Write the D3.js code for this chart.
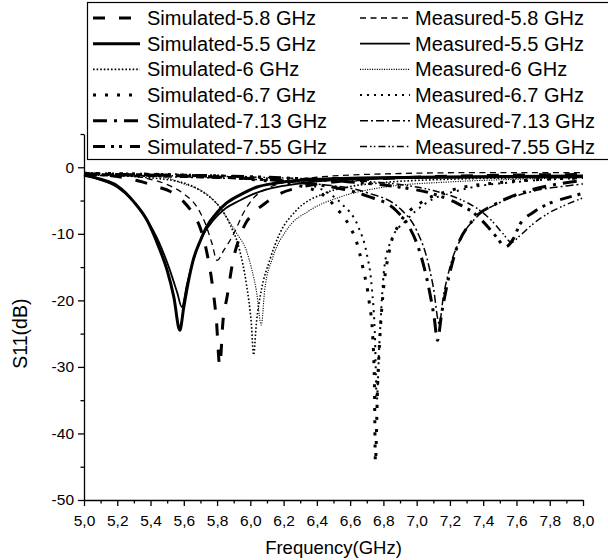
<!DOCTYPE html>
<html>
<head>
<meta charset="utf-8">
<title>S11 simulated vs measured</title>
<script src="https://cdn.jsdelivr.net/npm/d3@7"></script>
<style>
  body{margin:0;background:#fff;}
  text{font-family:Arial,"Liberation Sans",sans-serif;fill:#000;}
</style>
</head>
<body>
<div id="container"></div>
<script>
// ---- data: [frequency GHz, S11 dB]
var sim58 = [[5.0,-1.0],[5.2,-1.4],[5.35,-2.2],[5.45,-3],[5.516,-3.6],[5.6,-5.2],[5.656,-7],[5.7,-9.2],[5.736,-12.5],[5.776,-18.5],[5.796,-23],[5.816,-29.8],[5.836,-23],[5.86,-19.5],[5.896,-14],[5.936,-10.5],[5.97,-8.5],[6.016,-7],[6.1,-5.2],[6.176,-4],[6.3,-3],[6.5,-2.2],[7.0,-1.5],[7.5,-1.2],[8.0,-1.1]];
var meas58 = [[5.0,-0.8],[5.2,-1.1],[5.4,-1.8],[5.5,-2.6],[5.6,-4],[5.68,-6],[5.73,-8.5],[5.77,-11.5],[5.8,-14],[5.84,-12.5],[5.9,-10],[5.96,-6.8],[6.02,-4.6],[6.1,-3.2],[6.2,-2.3],[6.4,-1.5],[6.8,-1.0],[7.4,-0.8],[8.0,-0.8]];
var sim55 = [[5.0,-1.1],[5.1,-1.8],[5.2,-2.8],[5.3,-5.2],[5.38,-8],[5.45,-12],[5.5,-15.5],[5.54,-19.5],[5.576,-24.5],[5.6,-21],[5.625,-17.5],[5.656,-14],[5.7,-11],[5.736,-9],[5.8,-6.8],[5.856,-5.4],[5.95,-4],[6.036,-3],[6.15,-2.4],[6.276,-2],[6.5,-1.7],[7.0,-1.5],[7.5,-1.4],[8.0,-1.3]];
var meas55 = [[5.0,-1.3],[5.1,-1.9],[5.2,-3.0],[5.3,-5.2],[5.376,-7.8],[5.45,-11.2],[5.51,-15],[5.56,-18.8],[5.588,-21],[5.62,-17.5],[5.676,-12.5],[5.72,-10],[5.776,-8],[5.85,-6.2],[5.936,-5],[6.02,-4],[6.116,-3.2],[6.25,-2.6],[6.4,-2.1],[6.7,-1.8],[7.0,-1.6],[7.5,-1.5],[8.0,-1.5]];
var sim6 = [[5.0,-1.0],[5.3,-1.4],[5.576,-2.2],[5.7,-3.5],[5.78,-5],[5.84,-6.8],[5.876,-8.5],[5.936,-12.5],[5.976,-17.5],[6.006,-23.5],[6.02,-28.2],[6.036,-23.5],[6.066,-18.5],[6.116,-14],[6.176,-10],[6.276,-6.5],[6.436,-4],[6.6,-2.9],[6.8,-2.3],[7.2,-1.8],[7.6,-1.6],[8.0,-1.5]];
var meas6 = [[5.0,-1.0],[5.3,-1.2],[5.476,-1.5],[5.6,-2.5],[5.736,-4],[5.8,-5.5],[5.856,-7.5],[5.92,-10],[5.976,-12.5],[6.01,-15.5],[6.036,-18.5],[6.066,-23.7],[6.086,-18.5],[6.136,-13.5],[6.216,-9.5],[6.356,-6.5],[6.536,-4.5],[6.8,-3],[7.2,-2.2],[7.6,-1.8],[8.0,-1.5]];
var sim67 = [[5.0,-0.9],[5.6,-1.2],[6.0,-1.8],[6.3,-2.8],[6.45,-4.4],[6.52,-6.2],[6.6,-9],[6.636,-11],[6.676,-15],[6.716,-20.5],[6.736,-25.5],[6.746,-32.5],[6.752,-44.3],[6.765,-33],[6.78,-25],[6.796,-19.5],[6.836,-12.5],[6.896,-8.5],[7.016,-5.5],[7.2,-3.5],[7.5,-2.3],[8.0,-1.6]];
var meas67 = [[5.0,-0.9],[5.6,-1.1],[6.0,-1.5],[6.3,-2.3],[6.45,-3.6],[6.55,-5.5],[6.65,-9],[6.7,-13],[6.73,-18],[6.75,-26],[6.76,-35],[6.775,-27],[6.806,-15],[6.846,-11],[6.936,-8],[7.05,-5.5],[7.3,-3.2],[7.6,-2.2],[8.0,-1.6]];
var sim713 = [[5.0,-1.0],[5.6,-1.3],[6.0,-1.7],[6.3,-2.3],[6.5,-3],[6.7,-4.3],[6.876,-6.5],[6.956,-9],[7.016,-12.5],[7.076,-18.5],[7.105,-22.5],[7.125,-26],[7.15,-22],[7.176,-18.5],[7.236,-12.5],[7.336,-8],[7.476,-5.5],[7.676,-3.5],[7.876,-2.4],[8.0,-2.0]];
var meas713 = [[5.0,-1.2],[5.6,-1.5],[6.0,-1.8],[6.4,-2.5],[6.7,-3.8],[6.9,-6.2],[7.0,-9.5],[7.06,-13.5],[7.1,-18],[7.136,-23.5],[7.16,-19.5],[7.2,-15],[7.27,-10.5],[7.36,-7.5],[7.5,-5.3],[7.7,-3.6],[7.9,-2.8],[8.0,-2.5]];
var sim755 = [[5.0,-1.1],[5.6,-1.2],[6.2,-1.6],[6.6,-2.2],[6.9,-3],[7.1,-4],[7.25,-5.5],[7.35,-7],[7.43,-9],[7.49,-10.8],[7.53,-12],[7.58,-10.8],[7.62,-8.6],[7.7,-6.8],[7.8,-5.4],[7.9,-4.6],[8.0,-3.9]];
var meas755 = [[5.0,-1.2],[5.6,-1.3],[6.2,-1.6],[6.6,-2.0],[6.9,-2.6],[7.1,-3.5],[7.25,-4.7],[7.37,-6.3],[7.45,-8],[7.52,-10],[7.57,-11.3],[7.62,-10.3],[7.7,-8.5],[7.8,-6.8],[7.9,-5.6],[8.0,-4.6]];

var seriesNames = ["Simulated-5.8 GHz","Simulated-5.5 GHz","Simulated-6 GHz","Simulated-6.7 GHz","Simulated-7.13 GHz","Simulated-7.55 GHz",
                   "Measured-5.8 GHz","Measured-5.5 GHz","Measured-6 GHz","Measured-6.7 GHz","Measured-7.13 GHz","Measured-7.55 GHz"];
var seriesData = [sim58, sim55, sim6, sim67, sim713, sim755, meas58, meas55, meas6, meas67, meas713, meas755];

var xTicks = d3.range(50, 81, 1).map(d => d / 10);          // every 0.1 GHz
var xLabels = ["5,0","5,2","5,4","5,6","5,8","6,0","6,2","6,4","6,6","6,8","7,0","7,2","7,4","7,6","7,8","8,0"];
var yTicks = [5,0,-5,-10,-15,-20,-25,-30,-35,-40,-45,-50];
var yLabels = ["0","-10","-20","-30","-40","-50"];

// line styles (width, dash) - same order as series
var styles = [
  {w:3,   dash:"12,14"},
  {w:3,   dash:null},
  {w:1.6, dash:"1.6,2"},
  {w:3,   dash:"3,9"},
  {w:3,   dash:"14,7,3,7"},
  {w:3,   dash:"12,6,3,5,3,8"},
  {w:1.3, dash:"6,4.5"},
  {w:1.8, dash:null},
  {w:1.1, dash:"1.1,1.3"},
  {w:2,   dash:"2,5"},
  {w:1.5, dash:"8,3,2,3"},
  {w:1.5, dash:"7,3,1.6,2.2,1.6,3"}
];

var W = 608, H = 560;
var svg = d3.select("#container").append("svg")
    .attr("width", W).attr("height", H);

var xScale = d3.scaleLinear().domain([5, 8]).range([84, 583]);
var yScale = d3.scaleLinear().domain([-50, 5]).range([500, 134]);

// x axis
var xAxis = d3.axisBottom(xScale)
    .tickValues(xTicks)
    .tickSizeOuter(0)
    .tickPadding(9)
    .tickFormat(function(d){
      var i = Math.round((d - 5) * 10);
      return i % 2 == 0 ? xLabels[i / 2] : "";
    });
var gx = svg.append("g").attr("transform", "translate(0," + yScale(-50) + ")").call(xAxis);
gx.selectAll(".tick line").attr("y2", function(d){ return Math.round((d - 5) * 10) % 2 == 0 ? 6 : 3.5; });

// y axis
var yAxis = d3.axisLeft(yScale)
    .tickValues(yTicks)
    .tickSizeOuter(0)
    .tickPadding(4)
    .tickFormat(function(d){ return d % 10 == 0 ? yLabels[-d / 10] : ""; });
var gy = svg.append("g").attr("transform", "translate(" + xScale(5) + ",0)").call(yAxis);
gy.selectAll(".tick line").attr("x2", function(d){ return d % 10 == 0 ? -6 : -3.5; });

svg.selectAll(".domain, .tick line").attr("stroke", "#000").attr("stroke-width", 1.3);
svg.selectAll(".tick text").attr("font-size", 15.5).attr("fill", "#000")
   .style("font-family", "Arial, 'Liberation Sans', sans-serif");

// axis titles
svg.append("text")
  .attr("x", (xScale(5) + xScale(8)) / 2).attr("y", 554)
  .attr("text-anchor", "middle").attr("font-size", 18.5)
  .text("Frequency(GHz)");
svg.append("text")
  .attr("transform", "translate(27," + yScale(-25) + ") rotate(-90)")
  .attr("text-anchor", "middle").attr("font-size", 19.5)
  .text("S11(dB)");

// curves
var line = d3.line()
  .x(d => xScale(d[0]))
  .y(d => yScale(d[1]))
  .curve(d3.curveMonotoneX);

var plot = svg.append("g");
seriesData.forEach(function(s, i){
  plot.append("path")
    .datum(s)
    .attr("d", line)
    .attr("fill", "none")
    .attr("stroke", "#000")
    .attr("stroke-width", styles[i].w)
    .attr("stroke-dasharray", styles[i].dash);
});

// legend
var leg = svg.append("g");
leg.append("rect")
  .attr("x", 87.5).attr("y", 2.5).attr("width", 540).attr("height", 157)
  .attr("fill", "#fff").attr("stroke", "#000").attr("stroke-width", 1.2);

var rowY = d3.range(6).map(i => 18 + i * 25.7);
seriesNames.forEach(function(name, i){
  var col = i < 6 ? 0 : 1, row = i % 6;
  var sx = col == 0 ? 93 : 360, sw = col == 0 ? 47 : 50;
  var tx = col == 0 ? 147 : 415;
  leg.append("line")
    .attr("x1", sx).attr("x2", sx + sw)
    .attr("y1", rowY[row]).attr("y2", rowY[row])
    .attr("stroke", "#000")
    .attr("stroke-width", styles[i].w)
    .attr("stroke-dasharray", styles[i].dash);
  leg.append("text")
    .attr("x", tx).attr("y", rowY[row]).attr("dy", "0.35em")
    .attr("font-size", 20)
    .text(name);
});
</script>
</body>
</html>
